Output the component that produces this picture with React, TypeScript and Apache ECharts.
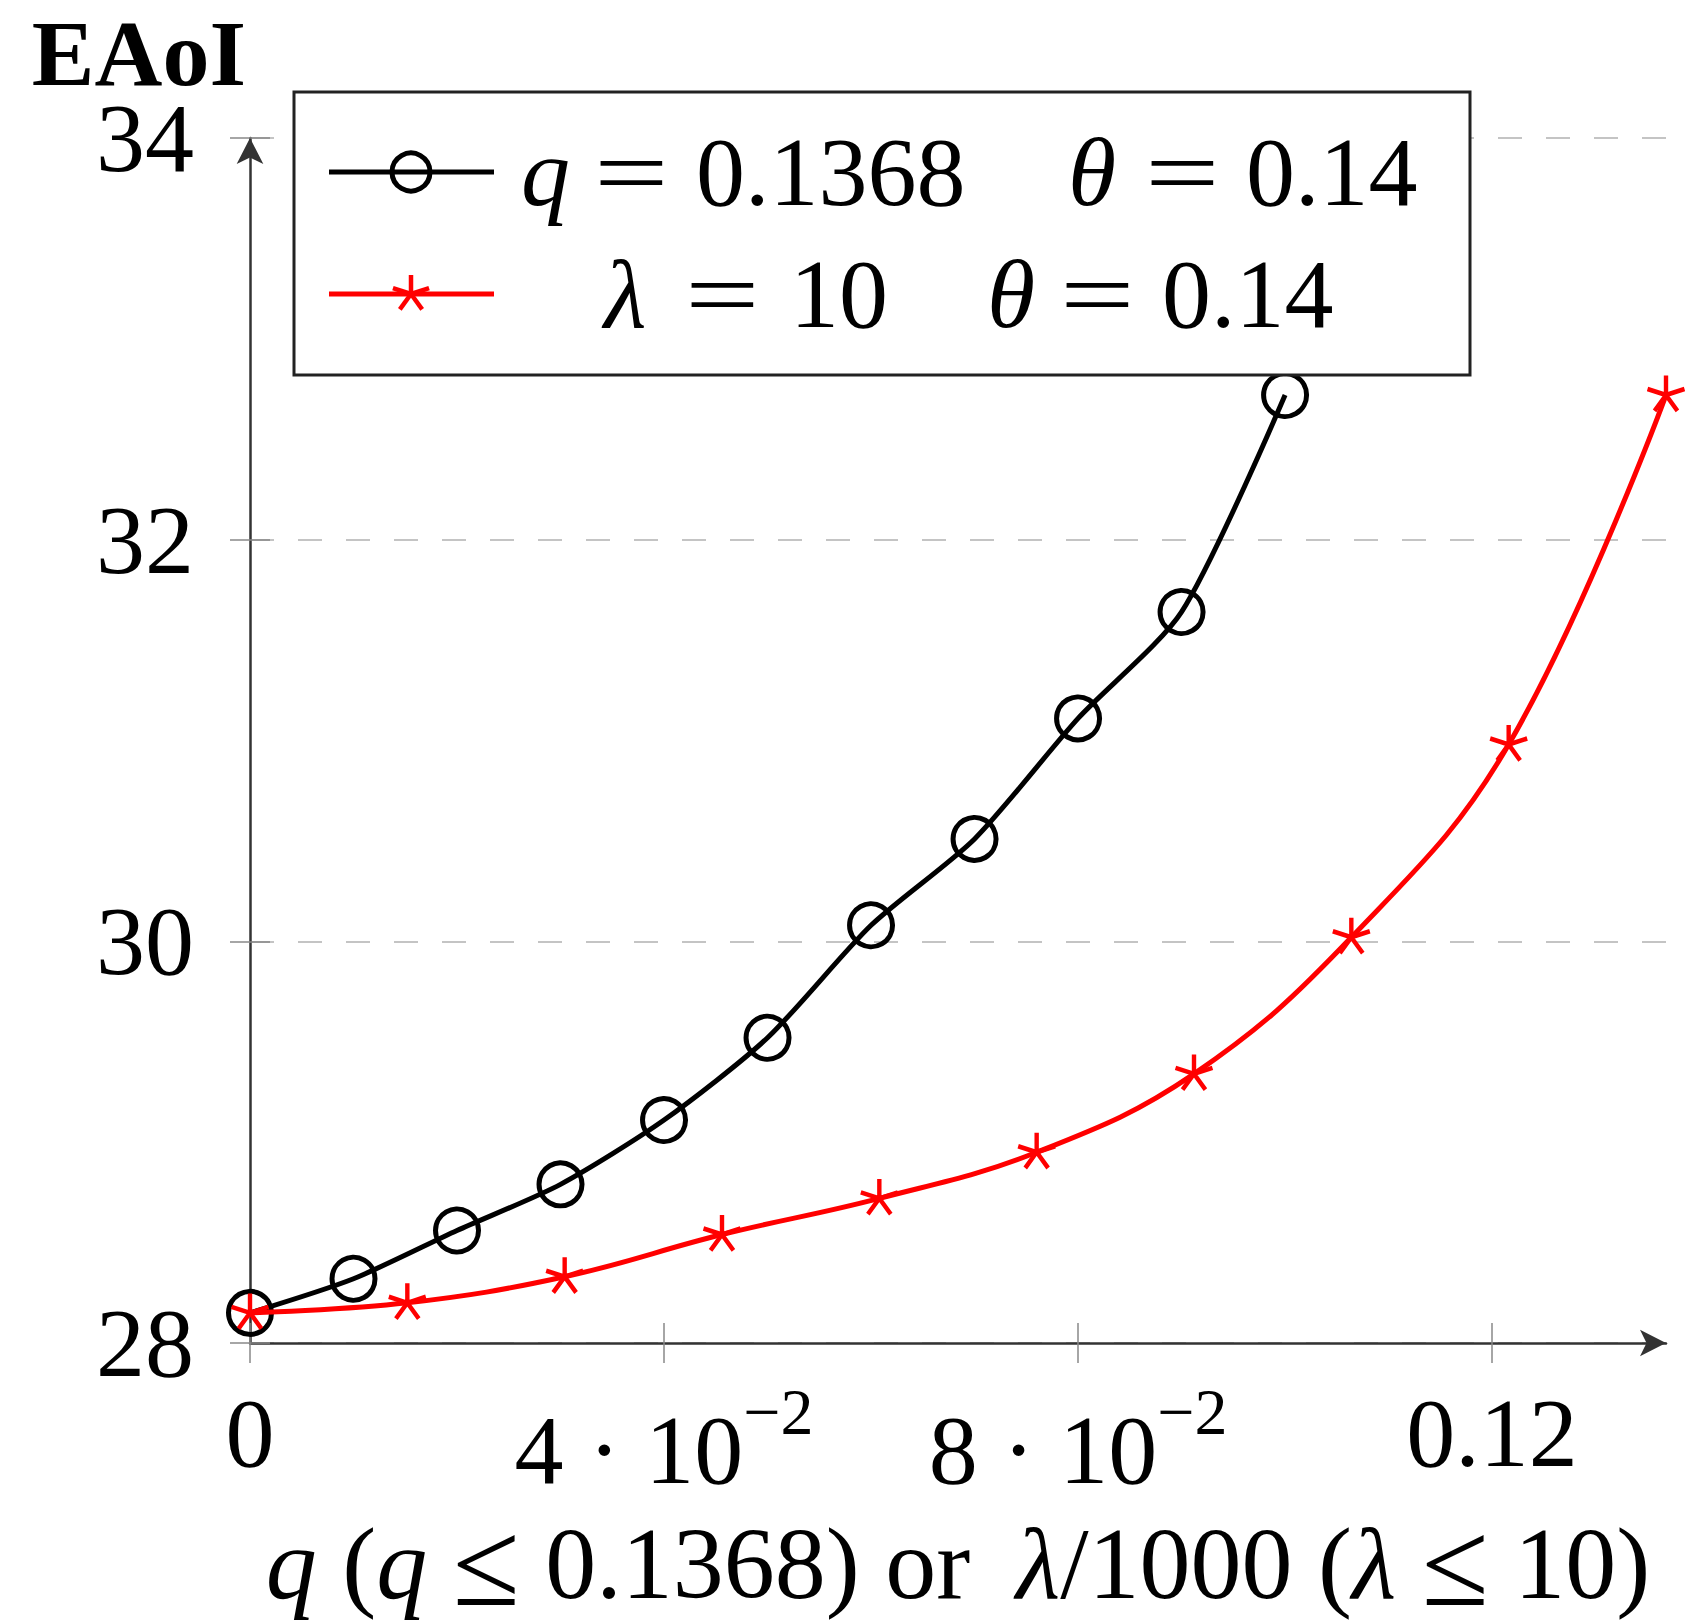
import React, { useEffect, useRef } from "react";
import * as echarts from "echarts";

const FONT = '"Liberation Serif", "Times New Roman", serif';

// x positions of the q series (black) and of the lambda/1000 series (red)
const qValues = [0, 0.01, 0.02, 0.03, 0.04, 0.05, 0.06, 0.07, 0.08, 0.09, 0.1];
const eaoiQ = [28.15, 28.32, 28.56, 28.79, 29.11, 29.52, 30.08, 30.51, 31.11, 31.64, 32.72];

const lambdaValues = [0, 0.0152, 0.0304, 0.0456, 0.0608, 0.076, 0.0912, 0.1064, 0.1216, 0.1368];
const eaoiLambda = [28.15, 28.2, 28.33, 28.54, 28.72, 28.95, 29.34, 30.02, 30.98, 32.72];

const xTicks = [0, 0.04, 0.08, 0.12];
const xTickLabels = ["0", "4 · 10^−2", "8 · 10^−2", "0.12"];
const yMin = 28;
const yMax = 34;
const yStep = 2;
const xMax = 0.1368;

const STAR_PATH =
  "path://M0,-1L0,0M0.951,-0.309L0,0M0.588,0.809L0,0M-0.588,0.809L0,0M-0.951,-0.309L0,0M0,1L0,1";

function starLines(cx: number, cy: number, r: number, color: string) {
  const angles = [-90, -18, 54, 126, 198];
  return angles.map((a) => ({
    type: "line",
    z: 20,
    shape: {
      x1: cx,
      y1: cy,
      x2: cx + r * Math.cos((a * Math.PI) / 180),
      y2: cy + r * Math.sin((a * Math.PI) / 180),
    },
    style: { stroke: color, lineWidth: 4.5 },
  }));
}

function txt(x: number, y: number, text: string, italic = false, scaleX = 1) {
  return {
    type: "text",
    z: 20,
    x,
    y,
    scaleX,
    style: {
      text,
      fontSize: 98,
      fontFamily: FONT,
      fontStyle: italic ? "italic" : "normal",
      fill: "#000",
      align: "left",
      verticalAlign: "middle",
    },
  };
}

export default function App() {
  const ref = useRef<HTMLDivElement>(null);
  useEffect(() => {
    document.body.style.margin = "0";
    const chart = echarts.init(ref.current!, null, { renderer: "svg" });
    const xLabelFormatter = (v: number) => {
      const idx = xTicks.findIndex((t) => Math.abs(t - v) < 1e-9);
      if (idx < 0) return "";
      const lab = xTickLabels[idx];
      if (lab.includes("^")) {
        const [base, exp] = lab.split("^");
        return `{m|${base}}{s|${exp}}`;
      }
      return `{n|${lab}}`;
    };
    const row1 = 172;
    const row2 = 294;
    const nameFs = 102;
    const option: any = {
      animation: false,
      backgroundColor: "#fff",
      grid: { left: 250, top: 138, width: 1416, height: 1205, containLabel: false, outerBoundsMode: "none" },
      xAxis: [
        {
          type: "value",
          min: 0,
          max: xMax,
          position: "bottom",
          nameMoveOverlap: false,
          axisLine: {
            show: true,
            onZero: false,
            symbol: ["none", "arrow"],
            symbolSize: [20, 26],
            symbolOffset: [0, 0],
            lineStyle: { color: "#333", width: 2.5 },
          },
          axisTick: { show: true, length: 20, customValues: xTicks, lineStyle: { color: "#888", width: 1.5 } },
          axisLabel: {
            customValues: xTicks,
            formatter: xLabelFormatter,
            margin: 35,
            color: "#000",
            fontFamily: FONT,
            rich: {
              n: { fontSize: 98, lineHeight: 110, fontFamily: FONT, color: "#000" },
              m: { fontSize: 98, lineHeight: 144, fontFamily: FONT, color: "#000" },
              s: { fontSize: 66, lineHeight: 118, verticalAlign: "top", fontFamily: FONT, color: "#000" },
            },
          },
          splitLine: { show: false },
          name:
            "{i|q}{t| }({i|q}{t| }{le|≤}{t| }0.1368){t| }or{g|\u2009}{t| }{i|λ}/1000{t| }({i|λ}{t| }{le|≤}{t| }10)",
          nameLocation: "middle",
          nameGap: 180,
          nameTextStyle: {
            fontSize: nameFs,
            lineHeight: 80,
            fontFamily: FONT,
            color: "#000",
            rich: {
              i: { fontSize: nameFs, lineHeight: 80, fontStyle: "italic", fontFamily: FONT, color: "#000" },
              t: { fontSize: nameFs, lineHeight: 80, fontFamily: FONT, color: "#000" },
              g: { fontSize: nameFs, lineHeight: 80, fontFamily: FONT, color: "#000" },
              le: { fontSize: 122, lineHeight: 80, fontFamily: FONT, color: "#000" },
            },
          },
        },
        {
          type: "value",
          min: 0,
          max: xMax,
          position: "bottom",
          axisLine: { show: false, onZero: false },
          axisTick: { show: true, inside: true, length: 20, customValues: xTicks, lineStyle: { color: "#888", width: 1.5 } },
          axisLabel: { show: false },
          splitLine: { show: false },
        },
      ],
      yAxis: [
        {
          type: "value",
          min: yMin,
          max: yMax,
          interval: yStep,
          position: "left",
          nameMoveOverlap: false,
          axisLine: {
            show: true,
            onZero: false,
            symbol: ["none", "arrow"],
            symbolSize: [20, 26],
            symbolOffset: [0, 0],
            lineStyle: { color: "#333", width: 2.5 },
          },
          axisTick: { show: true, length: 20, lineStyle: { color: "#888", width: 1.5 } },
          axisLabel: { margin: 56, fontSize: 98, lineHeight: 80, fontFamily: FONT, color: "#000" },
          splitLine: { show: true, lineStyle: { type: [24, 24], color: "#c4c4c4", width: 2 } },
          name: "EAoI",
          nameLocation: "end",
          nameGap: 50,
          nameTextStyle: {
            fontSize: 94,
            lineHeight: 70,
            fontWeight: "bold",
            fontFamily: FONT,
            color: "#000",
            align: "right",
            padding: [0, 4, 0, 0],
          },
        },
        {
          type: "value",
          min: yMin,
          max: yMax,
          interval: yStep,
          position: "left",
          axisLine: { show: false, onZero: false },
          axisTick: { show: true, inside: true, length: 20, lineStyle: { color: "#888", width: 1.5 } },
          axisLabel: { show: false },
          splitLine: { show: false },
        },
      ],
      series: [
        {
          type: "line",
          name: "q = 0.1368  θ = 0.14",
          data: qValues.map((x, i) => [x, eaoiQ[i]]),
          smooth: 0.25,
          clip: false,
          symbol: "circle",
          symbolSize: 43,
          lineStyle: { color: "#000", width: 5 },
          itemStyle: { color: "rgba(0,0,0,0)", borderColor: "#000", borderWidth: 5 },
          z: 3,
        },
        {
          type: "line",
          name: "λ = 10  θ = 0.14",
          data: lambdaValues.map((x, i) => [x, eaoiLambda[i]]),
          smooth: 0.4,
          clip: false,
          symbol: STAR_PATH,
          symbolSize: [37, 39],
          lineStyle: { color: "#ff0000", width: 5 },
          itemStyle: { color: "#ff0000", borderColor: "#ff0000", borderWidth: 4.5 },
          z: 4,
        },
      ],
      graphic: [
        {
          type: "rect",
          z: 10,
          shape: { x: 294, y: 92, width: 1176, height: 283 },
          style: { fill: "#fff", stroke: "#222", lineWidth: 3 },
        },
        { type: "line", z: 20, shape: { x1: 329, y1: row1, x2: 494, y2: row1 }, style: { stroke: "#000", lineWidth: 5 } },
        {
          type: "circle",
          z: 21,
          shape: { cx: 411, cy: row1, r: 19 },
          style: { fill: "rgba(0,0,0,0)", stroke: "#000", lineWidth: 5 },
        },
        { type: "line", z: 20, shape: { x1: 329, y1: row2, x2: 494, y2: row2 }, style: { stroke: "#ff0000", lineWidth: 5 } },
        ...starLines(411, row2, 19, "#ff0000"),
        txt(521, row1, "q", true),
        txt(594, row1, "=", false, 1.35),
        txt(696, row1, "0.1368"),
        txt(1068, row1, "θ", true),
        txt(1145, row1, "=", false, 1.35),
        txt(1246, row1, "0.14"),
        txt(604, row2, "λ", true),
        txt(685, row2, "=", false, 1.35),
        txt(790, row2, "10"),
        txt(987, row2, "θ", true),
        txt(1060, row2, "=", false, 1.35),
        txt(1162, row2, "0.14"),
      ],
    };
    chart.setOption(option);
    return () => chart.dispose();
  }, []);
  return (
    <div
      ref={ref}
      style={{ position: "fixed", left: 0, top: 0, width: 1691, height: 1624, background: "#fff" }}
    />
  );
}
